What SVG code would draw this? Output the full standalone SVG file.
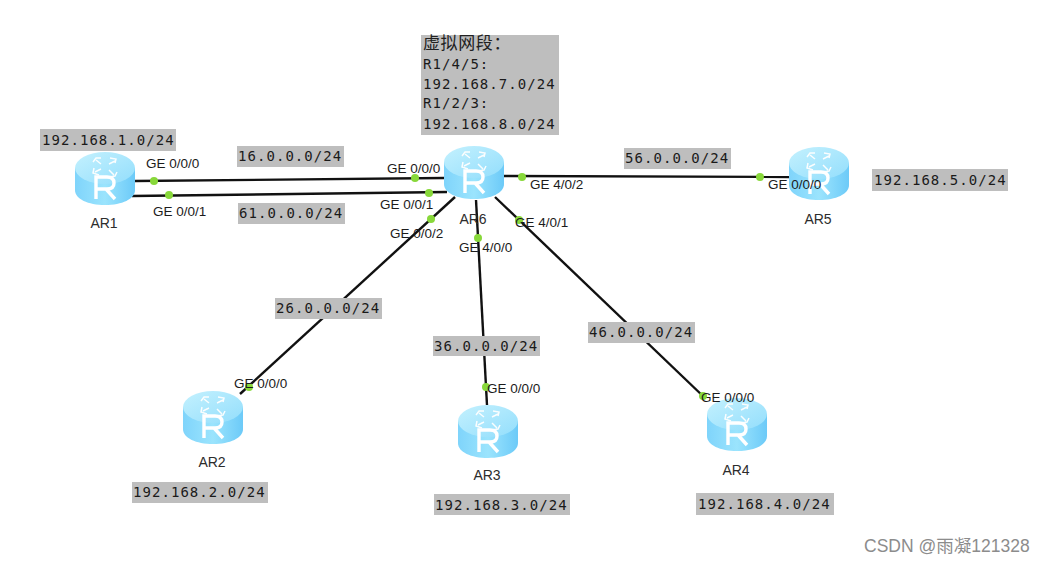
<svg xmlns="http://www.w3.org/2000/svg" width="1046" height="565" viewBox="0 0 1046 565">
<style>
.bg{fill:#bebebe}
.net{font:14px "DejaVu Sans Mono","Liberation Mono",monospace;letter-spacing:1.05px;fill:#1a1a1a}
.cn{font:17px "Noto Sans CJK SC",sans-serif;letter-spacing:.6px;fill:#222}
.port{font:13.5px "Liberation Sans",Arial,sans-serif;fill:#1c1c1c}
.name{font:14px "Liberation Sans",Arial,sans-serif;fill:#2c2c2c;text-anchor:middle}
.wm{font:17.5px "Liberation Sans","Noto Sans CJK SC",sans-serif;fill:#8c8c8c}
.link{stroke:#111;stroke-width:2.4;fill:none}
.dot{fill:#88d83a}
</style>
<defs>
<linearGradient id="side" x1="0" x2="1" y1="0" y2="0">
<stop offset="0" stop-color="#7fd4fb"/><stop offset="0.5" stop-color="#9be4fd"/><stop offset="1" stop-color="#6ccaf8"/>
</linearGradient>
<linearGradient id="top" x1="0" x2="1" y1="0" y2="1">
<stop offset="0" stop-color="#c4f1fe"/><stop offset="1" stop-color="#93defc"/>
</linearGradient>
<symbol id="router" width="60" height="54" viewBox="0 0 60 54" overflow="visible">
<path d="M0 16V38C0 47 13 53 30 53S60 47 60 38V16Z" fill="url(#side)"/>
<ellipse cx="30" cy="16" rx="30" ry="16" fill="url(#top)"/>
<g stroke="#fff" stroke-width="1.5" fill="none" opacity="0.95">
<path d="M26 12L21 8M18 10L21 6L26 6"/>
<path d="M34 12L40 9M35 6L41 7L40 11"/>
<path d="M26 17L20 20M19 16L18 21L24 23"/>
<path d="M34 18L39 23M42 20L40 24L34 25"/>
</g>
<path d="M21 47V25H32Q39 25 39 31T32 37H21M31 37L40 47" stroke="#fff" stroke-width="3.4" fill="none"/>
</symbol>
</defs>

<g id="connectors">
<path class="link" d="M135 181L444 178"/>
<path class="link" d="M132 196L447 192"/>
<path class="link" d="M504 176L789 177"/>
<path class="link" d="M455 197L240 394"/>
<path class="link" d="M476 200L487 405"/>
<path class="link" d="M495 197L705 398"/>
<g class="dot">
<circle cx="154" cy="181" r="4"/><circle cx="169" cy="195" r="4"/>
<circle cx="415" cy="178" r="4"/><circle cx="429" cy="193" r="4"/>
<circle cx="431" cy="219" r="4"/><circle cx="478" cy="238" r="4"/>
<circle cx="519" cy="220" r="4"/><circle cx="522" cy="177" r="4"/>
<circle cx="760" cy="177" r="4"/><circle cx="249" cy="387" r="4"/>
<circle cx="486" cy="387" r="4"/><circle cx="703" cy="396" r="4"/>
</g>
</g>

<g id="AR1"><use href="#router" x="75" y="152"/><text class="name" x="104" y="228">AR1</text></g>
<g id="AR2"><use href="#router" x="183" y="391"/><text class="name" x="212" y="467">AR2</text></g>
<g id="AR3"><use href="#router" x="458" y="405"/><text class="name" x="487" y="480">AR3</text></g>
<g id="AR4"><use href="#router" x="707" y="398"/><text class="name" x="736" y="475">AR4</text></g>
<g id="AR5"><use href="#router" x="789" y="147"/><text class="name" x="818" y="224">AR5</text></g>
<g id="AR6"><use href="#router" x="444" y="146"/><text class="name" x="473" y="224">AR6</text></g>

<g id="ports">
<text class="port" x="146" y="168">GE 0/0/0</text>
<text class="port" x="153" y="216">GE 0/0/1</text>
<text class="port" x="387" y="173">GE 0/0/0</text>
<text class="port" x="380" y="209">GE 0/0/1</text>
<text class="port" x="390" y="238">GE 0/0/2</text>
<text class="port" x="459" y="252">GE 4/0/0</text>
<text class="port" x="515" y="227">GE 4/0/1</text>
<text class="port" x="530" y="189">GE 4/0/2</text>
<text class="port" x="768" y="189">GE 0/0/0</text>
<text class="port" x="234" y="388">GE 0/0/0</text>
<text class="port" x="487" y="393">GE 0/0/0</text>
<text class="port" x="701" y="402">GE 0/0/0</text>
</g>

<g id="labels">
<rect class="bg" x="40" y="129" width="136" height="22"/><text class="net" x="42" y="145">192.168.1.0/24</text>
<rect class="bg" x="237" y="146" width="107" height="21"/><text class="net" x="238" y="161">16.0.0.0/24</text>
<rect class="bg" x="238" y="203" width="107" height="21"/><text class="net" x="239" y="218">61.0.0.0/24</text>
<rect class="bg" x="275" y="298" width="107" height="21"/><text class="net" x="276" y="313">26.0.0.0/24</text>
<rect class="bg" x="433" y="336" width="107" height="20"/><text class="net" x="434" y="351">36.0.0.0/24</text>
<rect class="bg" x="588" y="322" width="107" height="21"/><text class="net" x="589" y="337">46.0.0.0/24</text>
<rect class="bg" x="624" y="148" width="107" height="21"/><text class="net" x="625" y="163">56.0.0.0/24</text>
<rect class="bg" x="872" y="169" width="136" height="22"/><text class="net" x="874" y="185">192.168.5.0/24</text>
<rect class="bg" x="132" y="482" width="136" height="21"/><text class="net" x="133" y="497">192.168.2.0/24</text>
<rect class="bg" x="434" y="494" width="136" height="21"/><text class="net" x="435" y="510">192.168.3.0/24</text>
<rect class="bg" x="696" y="493" width="138" height="22"/><text class="net" x="698" y="509">192.168.4.0/24</text>
<rect class="bg" x="421" y="35" width="138" height="100"/>
<text class="cn" x="423" y="49">虚拟网段：</text>
<text class="net" x="423" y="69">R1/4/5:</text>
<text class="net" x="423" y="89">192.168.7.0/24</text>
<text class="net" x="423" y="108">R1/2/3:</text>
<text class="net" x="423" y="129">192.168.8.0/24</text>
</g>
<text class="wm" x="864" y="552">CSDN @雨凝121328</text>
</svg>
